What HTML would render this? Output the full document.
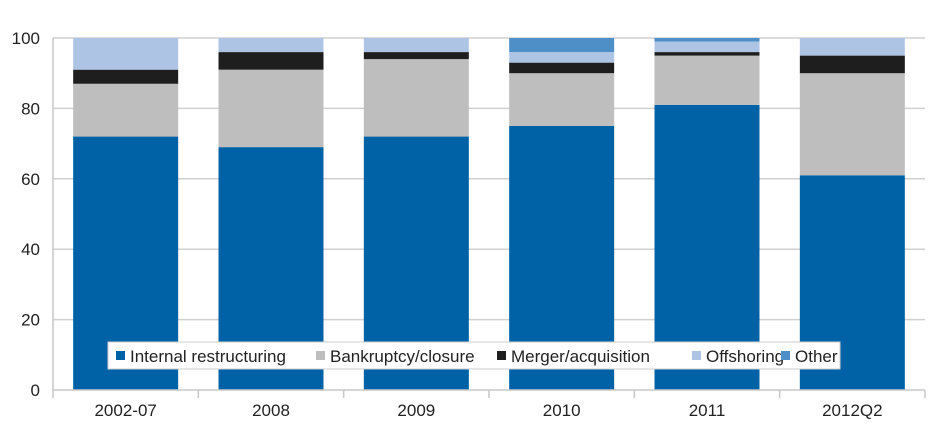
<!DOCTYPE html>
<html><head><meta charset="utf-8"><style>
body{margin:0;background:#fff;font-family:"Liberation Sans",sans-serif}
svg text{font-family:"Liberation Sans",sans-serif;fill:#222}
</style></head><body>
<svg id="c" width="937" height="439" xmlns="http://www.w3.org/2000/svg"></svg>
<script>
const categories=["2002-07","2008","2009","2010","2011","2012Q2"];
const internal=[72,69,72,75,81,61];
const bankruptcy=[15,22,22,15,14,29];
const merger=[4,5,2,3,1,5];
const offshoring=[9,4,4,3,3,5];
const other=[0,0,0,4,1,0];
const yTicks=[0,20,40,60,80,100];
const seriesNames=["Internal restructuring","Bankruptcy/closure","Merger/acquisition","Offshoring","Other"];
const colors=["#0062a6","#bebebe","#1e1e1e","#adc4e4","#4f8fc8"];
const series=[internal,bankruptcy,merger,offshoring,other];
const svg=document.getElementById('c');const NS="http://www.w3.org/2000/svg";
const X0=53,X1=925,Y0=390,Y1=38;
const step=(X1-X0)/categories.length,barW=105;
const y=v=>Y0-(v/100)*(Y0-Y1);
function mk(t,a,p){const e=document.createElementNS(NS,t);for(const k in a)e.setAttribute(k,a[k]);(p||svg).appendChild(e);return e;}
yTicks.forEach(t=>{
 if(t>0){const g=mk('line',{x1:X0,x2:X1,y1:y(t),y2:y(t),stroke:'#d0d0d0','stroke-width':1.5});
 
 }
 const l=mk('text',{x:40,y:y(t)+6,'text-anchor':'end','font-size':17});l.textContent=t;
 
 
});
categories.forEach((c,i)=>{
 const cx=X0+step*(i+0.5);let acc=0;
 series.forEach((s,j)=>{
  if(s[i]<=0)return;
  const r=mk('rect',{x:cx-barW/2,y:y(acc+s[i]),width:barW,height:y(acc)-y(acc+s[i]),fill:colors[j]});
  
  
  acc+=s[i];
 });
 const t=mk('text',{x:cx,y:416,'text-anchor':'middle','font-size':17});t.textContent=c;
 
 
});
const ax=mk('line',{x1:X0,x2:X1,y1:Y0,y2:Y0,stroke:'#c8c8c8','stroke-width':1.5});


const ay=mk('line',{x1:X0,x2:X0,y1:Y1,y2:Y0,stroke:'#c8c8c8','stroke-width':1.5});


for(let i=0;i<=categories.length;i++){const tk=mk('line',{x1:X0+step*i,x2:X0+step*i,y1:Y0,y2:Y0+8,stroke:'#c8c8c8','stroke-width':1.5});
 
 }
const lg=mk('g',{});


mk('rect',{x:108,y:342,width:732,height:27,fill:'#fff',stroke:'#ccc','stroke-width':1},lg);
const lx=[116,316,497,692,781];
seriesNames.forEach((n,j)=>{
 const e=mk('g',{},lg);
 
 
 mk('rect',{x:lx[j],y:351,width:9,height:9,fill:colors[j]},e);
 const t=mk('text',{x:lx[j]+14,y:362,'font-size':17},e);t.textContent=n;
});
</script>
</body></html>
